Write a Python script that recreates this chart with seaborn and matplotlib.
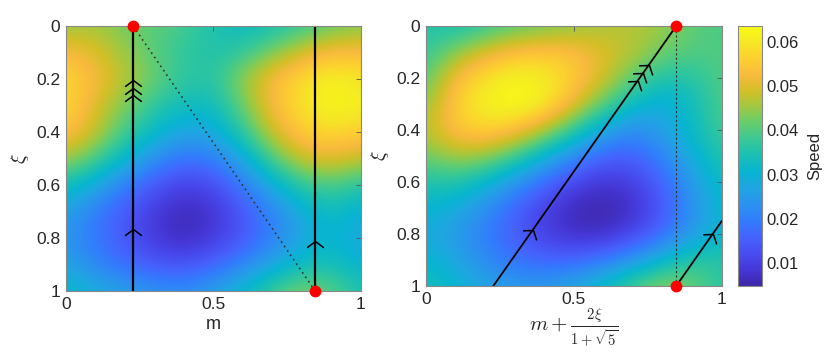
import numpy as np
import matplotlib
matplotlib.use("Agg")
import matplotlib.pyplot as plt
import seaborn as sns
from matplotlib.colors import LinearSegmentedColormap
from matplotlib.markers import MarkerStyle
from matplotlib.path import Path
from matplotlib.transforms import Affine2D

m_grid = [0.0, 0.1, 0.2, 0.3, 0.4, 0.5, 0.6, 0.7, 0.8, 0.9, 1.0]
xi_grid = [0.0, 0.1, 0.2, 0.3, 0.4, 0.5, 0.6, 0.7, 0.8, 0.9, 1.0]

speed_left = [
    [0.044, 0.046, 0.042, 0.041, 0.039, 0.035, 0.032, 0.034, 0.037, 0.041, 0.043],
    [0.053, 0.050, 0.045, 0.040, 0.037, 0.035, 0.037, 0.043, 0.049, 0.053, 0.053],
    [0.057, 0.053, 0.047, 0.042, 0.037, 0.036, 0.045, 0.053, 0.058, 0.062, 0.059],
    [0.058, 0.050, 0.043, 0.037, 0.033, 0.033, 0.042, 0.053, 0.059, 0.063, 0.061],
    [0.055, 0.048, 0.039, 0.032, 0.027, 0.028, 0.037, 0.049, 0.056, 0.058, 0.056],
    [0.046, 0.040, 0.031, 0.023, 0.018, 0.020, 0.028, 0.040, 0.049, 0.051, 0.048],
    [0.034, 0.028, 0.020, 0.014, 0.010, 0.012, 0.019, 0.029, 0.037, 0.040, 0.036],
    [0.026, 0.020, 0.014, 0.009, 0.006, 0.008, 0.014, 0.021, 0.029, 0.033, 0.029],
    [0.024, 0.019, 0.014, 0.009, 0.006, 0.009, 0.014, 0.020, 0.027, 0.031, 0.027],
    [0.027, 0.021, 0.017, 0.014, 0.013, 0.016, 0.021, 0.027, 0.033, 0.034, 0.030],
    [0.032, 0.029, 0.026, 0.024, 0.023, 0.026, 0.032, 0.039, 0.044, 0.041, 0.035],
]

speed_right = [
    [0.036, 0.034, 0.037, 0.040, 0.042, 0.044, 0.046, 0.047, 0.045, 0.041, 0.039],
    [0.037, 0.044, 0.050, 0.054, 0.055, 0.054, 0.050, 0.047, 0.042, 0.040, 0.040],
    [0.040, 0.053, 0.059, 0.062, 0.061, 0.056, 0.049, 0.041, 0.035, 0.036, 0.040],
    [0.044, 0.056, 0.062, 0.064, 0.061, 0.051, 0.041, 0.032, 0.028, 0.033, 0.040],
    [0.047, 0.055, 0.057, 0.054, 0.047, 0.037, 0.027, 0.022, 0.026, 0.032, 0.039],
    [0.042, 0.046, 0.045, 0.039, 0.030, 0.022, 0.016, 0.015, 0.021, 0.029, 0.036],
    [0.035, 0.036, 0.031, 0.024, 0.017, 0.011, 0.008, 0.010, 0.016, 0.025, 0.033],
    [0.031, 0.028, 0.023, 0.016, 0.010, 0.006, 0.005, 0.007, 0.014, 0.023, 0.031],
    [0.028, 0.025, 0.020, 0.015, 0.010, 0.007, 0.007, 0.011, 0.017, 0.025, 0.031],
    [0.031, 0.027, 0.022, 0.018, 0.016, 0.016, 0.019, 0.024, 0.031, 0.037, 0.036],
    [0.034, 0.031, 0.027, 0.025, 0.025, 0.028, 0.033, 0.040, 0.045, 0.042, 0.036],
]

# trajectories
left_lines_m = [0.228, 0.846]
left_dots_m = [0.228, 0.846]
left_dots_xi = [0.0, 1.0]
left_arrows_m = [0.228, 0.228, 0.228, 0.228, 0.846]
left_arrows_xi = [0.205, 0.233, 0.262, 0.765, 0.81]

right_seg1_x = [0.228, 0.846]
right_seg1_xi = [1.0, 0.0]
right_seg2_x = [0.846, 1.0]
right_seg2_xi = [1.0, 0.75]
right_dots_x = [0.846, 0.846]
right_dots_xi = [0.0, 1.0]
right_arrows_x = [0.753, 0.735, 0.716, 0.361, 0.970]
right_arrows_xi = [0.150, 0.180, 0.210, 0.785, 0.800]

cbar_ticks = [0.01, 0.02, 0.03, 0.04, 0.05, 0.06]
vmin, vmax = 0.0048, 0.0636

# MATLAB parula, sampled
parula = LinearSegmentedColormap.from_list("parula", [
    (0.2422, 0.1504, 0.6603), (0.2706, 0.2147, 0.8364), (0.2813, 0.3006, 0.9414),
    (0.2699, 0.3892, 0.9906), (0.1963, 0.4847, 0.9892), (0.1687, 0.5703, 0.9359),
    (0.1248, 0.6459, 0.8883), (0.0297, 0.7082, 0.8163), (0.0964, 0.7500, 0.7120),
    (0.2161, 0.7843, 0.5923), (0.3909, 0.8029, 0.4354), (0.6174, 0.7876, 0.2612),
    (0.8203, 0.7498, 0.1535), (0.9728, 0.7298, 0.2394), (0.9892, 0.8136, 0.1885),
    (0.9597, 0.9135, 0.1423), (0.9769, 0.9839, 0.0805),
])

sns.set_style("white")
plt.rcParams["font.family"] = ["Liberation Sans", "DejaVu Sans"]
plt.rcParams["mathtext.fontset"] = "cm"

fig = plt.figure(figsize=(8.3, 3.52), dpi=100)
ax1 = fig.add_axes([0.0795, 0.173, 0.355, 0.753])
ax2 = fig.add_axes([0.513, 0.1875, 0.3566, 0.7386])
cax = fig.add_axes([0.889, 0.1875, 0.029, 0.7386])

half = 0.05
ext = [m_grid[0] - half, m_grid[-1] + half, xi_grid[-1] + half, xi_grid[0] - half]

chev = Path([(-1, -0.75), (0, 0), (1, -0.75)], [Path.MOVETO, Path.LINETO, Path.LINETO])
chev_up = MarkerStyle(chev)
chev_tilt = MarkerStyle(chev, transform=Affine2D().rotate_deg(-35))

im = ax1.imshow(np.array(speed_left), cmap=parula, vmin=vmin, vmax=vmax,
                extent=ext, interpolation="bicubic", aspect="auto")
ax2.imshow(np.array(speed_right), cmap=parula, vmin=vmin, vmax=vmax,
           extent=ext, interpolation="bicubic", aspect="auto")

# left panel
for mv in left_lines_m:
    sns.lineplot(x=[mv, mv], y=[0.0, 1.0], ax=ax1, color="black", lw=1.6,
                 estimator=None, sort=False)
ax1.plot([left_dots_m[0], left_dots_m[1]], [left_dots_xi[0], left_dots_xi[1]],
         ls=(0, (1, 2.2)), color="#333333", lw=1.2)
ax1.plot(left_arrows_m, left_arrows_xi, ls="none", marker=chev_up, ms=12,
         mfc="none", mec="black", mew=1.1)
ax1.plot(left_dots_m, left_dots_xi, ls="none", marker="o", ms=7.5,
         color="red", clip_on=False, zorder=10)

# right panel
sns.lineplot(x=right_seg1_x, y=right_seg1_xi, ax=ax2, color="black", lw=1.3,
             estimator=None, sort=False)
sns.lineplot(x=right_seg2_x, y=right_seg2_xi, ax=ax2, color="black", lw=1.3,
             estimator=None, sort=False)
ax2.plot(right_dots_x, right_dots_xi, ls=(0, (2, 2)), color="#333333", lw=0.8)
ax2.plot(right_arrows_x, right_arrows_xi, ls="none", marker=chev_tilt, ms=12,
         mfc="none", mec="black", mew=1.1)
ax2.plot(right_dots_x, right_dots_xi, ls="none", marker="o", ms=7.5,
         color="red", clip_on=False, zorder=10)

for ax in (ax1, ax2):
    ax.set_xlim(0, 1)
    ax.set_ylim(1, 0)
    ax.set_xticks([0, 0.5, 1])
    ax.set_xticklabels(["0", "0.5", "1"])
    ax.set_yticks([0, 0.2, 0.4, 0.6, 0.8, 1])
    ax.set_yticklabels(["0", "0.2", "0.4", "0.6", "0.8", "1"])
    ax.tick_params(direction="in", top=True, right=True, length=3.5, width=0.6,
                   color="#555555", labelsize=12.5, labelcolor="#262626", pad=4)
    for s in ax.spines.values():
        s.set_color("#888888")
        s.set_linewidth(0.8)
    ax.set_ylabel(r"$\xi$", fontsize=14, color="#262626", labelpad=4)

ax1.set_xlabel("m", fontsize=13, color="#262626", labelpad=3)
ax2.set_xlabel(r"$m+\frac{2\xi}{1+\sqrt{5}}$", fontsize=15, color="#262626", labelpad=1)

cb = fig.colorbar(im, cax=cax, ticks=cbar_ticks)
cb.ax.set_yticklabels(["0.01", "0.02", "0.03", "0.04", "0.05", "0.06"])
cb.ax.tick_params(direction="in", length=3, width=0.6, color="#555555",
                  labelsize=12, labelcolor="#262626")
cb.outline.set_edgecolor("#888888")
cb.outline.set_linewidth(0.8)
cb.set_label("Speed", fontsize=12, color="#262626", labelpad=6)

fig.savefig("out.png", dpi=100)
